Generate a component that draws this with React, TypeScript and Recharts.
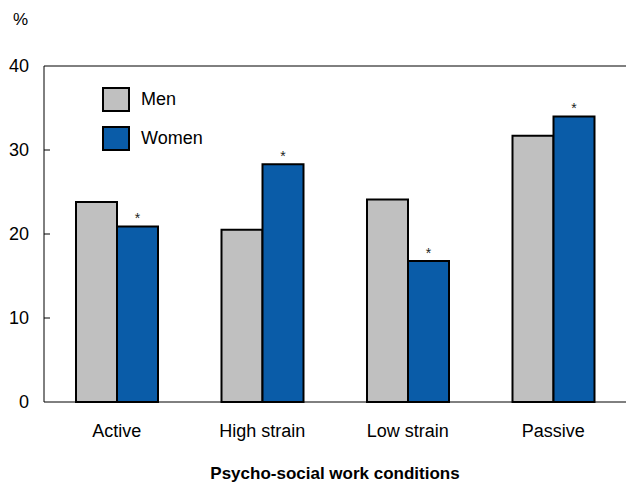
import React from 'react';
import { BarChart, Bar, XAxis, YAxis, LabelList, ReferenceLine } from 'recharts';

const categories = ['Active', 'High strain', 'Low strain', 'Passive'];
const menValues = [23.8, 20.5, 24.1, 31.7];
const womenValues = [20.9, 28.3, 16.8, 34.0];
const yTicks = [0, 10, 20, 30, 40];
const legendItems = ['Men', 'Women'];

const FONT = '"Liberation Sans", Arial, Helvetica, sans-serif';
const MEN_COLOR = '#c0c0c0';
const WOMEN_COLOR = '#0a5ca8';

const data = categories.map((name, i) => ({
  name,
  men: menValues[i],
  women: womenValues[i],
}));

// y ticks with the tick mark drawn inside the plot
const YTick = (props: any) => {
  const { x, y, payload } = props;
  return (
    <g>
      {payload.value !== 0 && payload.value !== 40 && (
        <line x1={x + 15} x2={x + 21} y1={y} y2={y} stroke="#000" strokeWidth={1} />
      )}
      <text x={x} y={y} dy={6} textAnchor="end" fontSize={18} fontFamily={FONT} fill="#000">
        {payload.value}
      </text>
    </g>
  );
};

const LegendBox = () => (
  <div
    style={{
      position: 'absolute',
      left: 102,
      top: 87,
      fontFamily: FONT,
      fontSize: 18,
      color: '#000',
    }}
  >
    {legendItems.map((label, i) => (
      <div key={label} style={{ display: 'flex', alignItems: 'center', height: 25, marginBottom: 14 }}>
        <div
          style={{
            width: 24,
            height: 21,
            background: i === 0 ? MEN_COLOR : WOMEN_COLOR,
            border: '2px solid #000',
            marginRight: 11,
          }}
        />
        <span>{label}</span>
      </div>
    ))}
  </div>
);

export default function App() {
  return (
    <div style={{ position: 'absolute', left: 0, top: 0, width: 626, height: 486, background: '#fff', overflow: 'hidden' }}>
      <div
        style={{
          position: 'absolute',
          left: 13,
          top: 10,
          fontFamily: FONT,
          fontSize: 17,
          color: '#000',
        }}
      >
        %
      </div>
      <BarChart
        width={626}
        height={486}
        data={data}
        margin={{ top: 66, right: 0, left: 0, bottom: 0 }}
        barGap={0}
        barSize={41}
      >
        <XAxis
          dataKey="name"
          height={84}
          tickLine={false}
          tickSize={0}
          tickMargin={22}
          axisLine={{ stroke: '#000', strokeWidth: 1 }}
          tick={{ fontSize: 18, fontFamily: FONT, fill: '#000' }}
          label={{
            value: 'Psycho-social work conditions',
            position: 'insideBottom',
            offset: 7,
            style: { fontSize: 17, fontWeight: 'bold', fontFamily: FONT, fill: '#000' },
          }}
        />
        <YAxis
          width={44}
          domain={[0, 40]}
          ticks={yTicks}
          tickLine={false}
          tickSize={0}
          tickMargin={15}
          axisLine={{ stroke: '#000', strokeWidth: 1 }}
          tick={<YTick />}
        />
        <ReferenceLine y={40} stroke="#000" strokeWidth={1} />
        <Bar dataKey="men" name="Men" fill={MEN_COLOR} stroke="#000" strokeWidth={2} isAnimationActive={false} />
        <Bar dataKey="women" name="Women" fill={WOMEN_COLOR} stroke="#000" strokeWidth={2} isAnimationActive={false}>
          <LabelList
            dataKey="women"
            position="top"
            offset={3}
            formatter={() => '*'}
            style={{ fontSize: 14, fontFamily: FONT, fill: '#222' }}
          />
        </Bar>
      </BarChart>
      <LegendBox />
    </div>
  );
}
